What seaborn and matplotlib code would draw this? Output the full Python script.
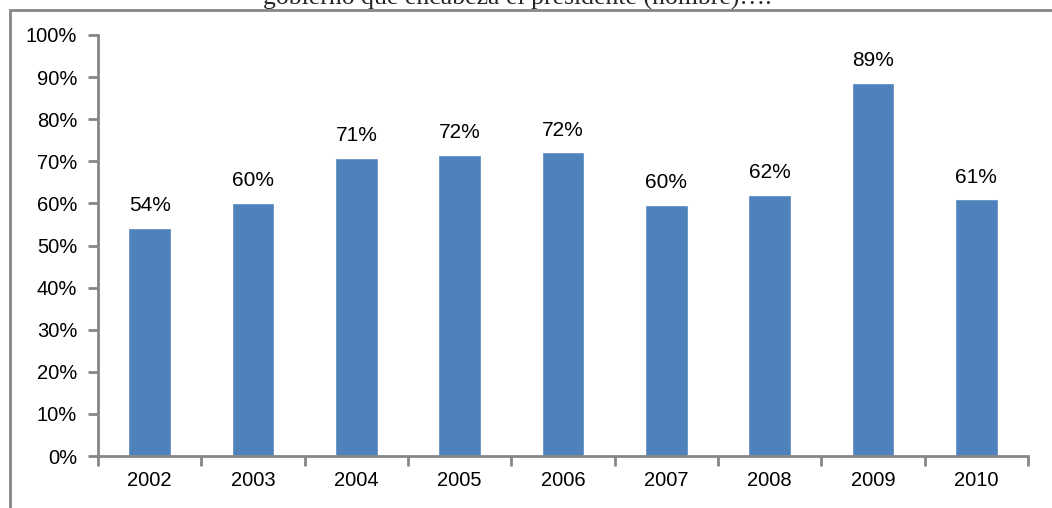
import matplotlib
matplotlib.use("Agg")
import matplotlib.pyplot as plt
import matplotlib.patches as patches
from matplotlib.ticker import FixedLocator, PercentFormatter
import seaborn as sns
import pandas as pd

## Data
years = ['2002', '2003', '2004', '2005', '2006', '2007', '2008', '2009', '2010']
values = [0.542, 0.601, 0.709, 0.716, 0.721, 0.597, 0.621, 0.886, 0.610]
labels = ['54%', '60%', '71%', '72%', '72%', '60%', '62%', '89%', '61%']
title = 'gobierno que encabeza el presidente (nombre)….'

df = pd.DataFrame({'year': years, 'value': values})

sns.set_style('white')
plt.rcParams['font.family'] = ['Liberation Sans', 'DejaVu Sans']

fig = plt.figure(figsize=(10.52, 5.08), dpi=100)
ax = fig.add_axes([98 / 1052, 1 - 456 / 508, 930 / 1052, 421 / 508])

sns.barplot(x='year', y='value', data=df, color='#4F81BD', saturation=1,
            width=0.41, ax=ax)

ax.set_xlim(-0.5, len(years) - 0.5)
ax.set_ylim(0, 1)
ax.set_yticks([i / 10 for i in range(11)])
ax.yaxis.set_major_formatter(PercentFormatter(1.0, decimals=0))
ax.set_xlabel('')
ax.set_ylabel('')

# value labels
for i, (v, t) in enumerate(zip(values, labels)):
    ax.annotate(t, (i, v), xytext=(0, 9), textcoords='offset points',
                ha='center', va='bottom', fontsize=15, color='black')

# axis styling
grey = '#868686'
for s in ['top', 'right']:
    ax.spines[s].set_visible(False)
for s in ['left', 'bottom']:
    ax.spines[s].set_color(grey)
    ax.spines[s].set_linewidth(2)

ax.tick_params(axis='y', which='major', length=7, width=2, color=grey,
               labelsize=14.5, labelcolor='black', pad=8, left=True,
               direction='out')
ax.tick_params(axis='x', which='major', length=0, labelsize=14.5,
               labelcolor='black', pad=11)
ax.xaxis.set_minor_locator(FixedLocator([i - 0.5 for i in range(len(years) + 1)]))
ax.tick_params(axis='x', which='minor', length=7, width=2, color=grey,
               bottom=True, direction='out')

# title (clipped at top as in the source) and outer frame
fig.text(0.492, 1 - 5 / 508, title, ha='center', va='baseline',
         fontsize=18.5, family=['Liberation Serif', 'DejaVu Serif'])
frame = patches.Rectangle((10 / 1052, -0.1), 1.2, 1.1 - 10 / 508,
                          transform=fig.transFigure, fill=False,
                          edgecolor=grey, linewidth=2)
fig.patches.append(frame)

fig.savefig('out.png', dpi=100)
